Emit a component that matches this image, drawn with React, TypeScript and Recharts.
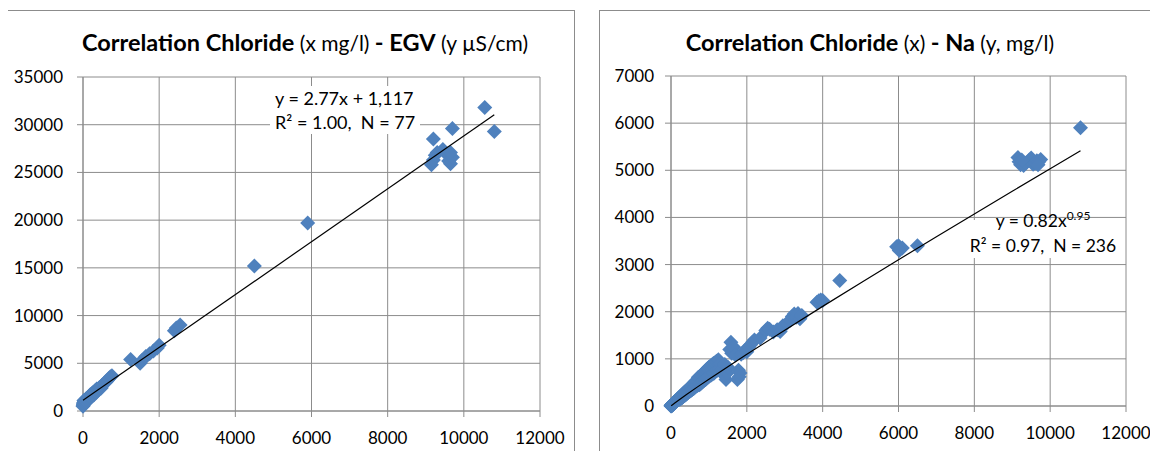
import React from 'react';
import { ScatterChart, Scatter, XAxis, YAxis, CartesianGrid } from 'recharts';

const GRID = '#8c8c8c';
const MARK = '#4f81bd';
const FONT = 'Lato, "Open Sans", sans-serif';

// chloride (mg/l) vs EGV (µS/cm)
const egvNearOrigin: [number, number][] = [
  [0, 500], [5, 600], [10, 700], [15, 800], [20, 900], [25, 1100], [30, 800], [40, 1000],
  [50, 900], [60, 1100], [70, 1000], [80, 1200], [90, 1300], [100, 1000], [110, 1200],
  [120, 1300], [130, 1100], [140, 1400], [150, 1500], [160, 1300], [170, 1400], [180, 1500],
  [190, 1700], [200, 1600], [210, 1500], [220, 1700], [230, 1800], [250, 1600], [260, 1900],
  [270, 1800], [290, 1700], [300, 1900], [310, 2100], [320, 2000], [340, 1900], [350, 2100],
  [360, 2300], [380, 2200], [400, 2300], [420, 2400], [450, 2500], [480, 2400], [500, 2700],
  [530, 2800], [560, 2900], [600, 3000], [640, 3200], [680, 3400], [720, 3600], [760, 3700],
];
const egvMid: [number, number][] = [
  [1250, 5400], [1500, 5000], [1550, 5300], [1650, 5700], [1750, 6000], [1850, 6300],
  [1950, 6600], [2000, 6900], [2400, 8400], [2450, 8700], [2550, 9000], [4500, 15200], [5900, 19700],
];
const egvHigh: [number, number][] = [
  [9150, 25800], [9200, 26300], [9250, 26800], [9300, 27100], [9450, 27400], [9550, 26900],
  [9600, 26200], [9650, 25900], [9700, 26600], [9650, 27100], [9200, 28500], [9700, 29600],
  [10550, 31800], [10800, 29300],
];
const egvSlope = 2.77;
const egvIntercept = 1117;
const egvR2 = 1.0;

// chloride vs Na (mg/l)
const naNearOrigin: [number, number][] = [
  [0, 0], [3, 5], [5, 8], [8, 4], [10, 12], [12, 9], [15, 14], [18, 10], [20, 20], [22, 16],
  [25, 22], [28, 18], [30, 28], [33, 24], [35, 30], [38, 26], [40, 36], [43, 30], [45, 40], [48, 34],
  [50, 44], [55, 40], [58, 50], [60, 46], [63, 54], [66, 48], [70, 60], [73, 55], [76, 66], [80, 58],
  [83, 70], [86, 64], [90, 76], [93, 70], [96, 82], [100, 74], [104, 88], [108, 80], [112, 94], [116, 86],
  [120, 100], [125, 92], [130, 108], [135, 98], [140, 116], [145, 106], [150, 124], [155, 112], [160, 132], [165, 120],
  [170, 140], [175, 128], [180, 148], [185, 136], [190, 156], [195, 144], [200, 164], [205, 150], [210, 172], [215, 158],
];
const naLow: [number, number][] = [
  [220, 176], [225, 142], [230, 184], [235, 148], [240, 192], [245, 154], [250, 200], [255, 175],
  [260, 208], [265, 167], [270, 216], [275, 173], [280, 224], [285, 180], [290, 232], [295, 186],
  [300, 220], [305, 192], [310, 248], [315, 198], [320, 256], [325, 205], [330, 264], [335, 211],
  [340, 272], [345, 250], [350, 280], [355, 224], [360, 288], [365, 230], [370, 296], [375, 236],
  [380, 304], [385, 243], [390, 312], [395, 249], [400, 320], [410, 300], [420, 336], [430, 271],
  [440, 352], [450, 284], [460, 368], [470, 340], [480, 384], [490, 309], [500, 400], [510, 321],
  [520, 416], [530, 334], [540, 432], [550, 347], [560, 420], [570, 359], [580, 464], [590, 372],
  [600, 480], [610, 384], [620, 496], [630, 397], [640, 512], [650, 450], [660, 528], [670, 422],
  [680, 544], [690, 435], [700, 520], [710, 447], [720, 610], [730, 460],
];
const naMid: [number, number][] = [
  [740, 600], [750, 450], [760, 620], [770, 470], [780, 640], [790, 480], [800, 650], [810, 500],
  [820, 660], [830, 520], [840, 690], [850, 530], [860, 700], [870, 540], [880, 720], [890, 560],
  [900, 730], [910, 560], [920, 760], [930, 580], [940, 770], [950, 600], [960, 790], [970, 610],
  [980, 800], [990, 620], [1000, 820], [1020, 640], [1040, 850], [1060, 660], [1080, 870], [1100, 680],
  [1120, 900], [1140, 700], [1160, 920], [1180, 740], [1200, 950], [1220, 760], [1250, 980], [1280, 800],
  [1300, 900], [1350, 780], [1400, 650], [1420, 880], [1450, 560], [1480, 700], [1500, 820], [1550, 1200],
  [1580, 1350], [1600, 1120], [1650, 1250], [1700, 1080], [1750, 560], [1780, 760], [1800, 620], [1820, 700],
  [1850, 1100], [1900, 1130], [1950, 1180], [2000, 1150], [2050, 1250], [2100, 1300], [2150, 1350], [2200, 1400],
];
const naHigh: [number, number][] = [
  [2350, 1440], [2500, 1600], [2550, 1650], [2600, 1630], [2700, 1570], [2800, 1620], [2880, 1580],
  [2950, 1700], [3050, 1750], [3150, 1820], [3200, 1900], [3250, 1950], [3300, 1880], [3350, 1960],
  [3400, 1850], [3450, 1920], [3850, 2200], [3900, 2230], [3950, 2250], [4000, 2240], [4450, 2660],
  [5950, 3380], [6000, 3400], [6050, 3330], [6100, 3350], [6020, 3300], [6500, 3400],
  [9150, 5270], [9180, 5180], [9220, 5120], [9300, 5100], [9350, 5150], [9450, 5220], [9500, 5260],
  [9550, 5130], [9600, 5150], [9650, 5200], [9700, 5180], [9750, 5230], [9680, 5120], [9250, 5220],
  [10800, 5900],
];
const naCoef = 0.82;
const naExp = 0.947;
const naR2 = 0.97;
const naFitX = [5, 50, 100, 200, 400, 700, 1000, 1500, 2000, 3000, 4000, 5000, 6000, 7000, 8000, 9000, 10000, 10800];

const xTicks = [0, 2000, 4000, 6000, 8000, 10000, 12000];
const egvTicks = [0, 5000, 10000, 15000, 20000, 25000, 30000, 35000];
const naTicks = [0, 1000, 2000, 3000, 4000, 5000, 6000, 7000];

const toPoints = (rows: [number, number][]) => rows.map(([x, y]) => ({ x, y }));

const egvPoints = toPoints([...egvNearOrigin, ...egvMid, ...egvHigh]);
const naPoints = toPoints([...naNearOrigin, ...naLow, ...naMid, ...naHigh]);

const egvMaxX = Math.max(...egvPoints.map((p) => p.x));
const egvFit = [0, egvMaxX].map((x) => ({ x, y: egvSlope * x + egvIntercept }));
const naFit = naFitX.map((x) => ({ x, y: naCoef * Math.pow(x, naExp) }));

const Diamond = (props: any) => {
  const { cx, cy } = props;
  if (cx == null || cy == null) return <g />;
  const r = 7.5;
  return <path d={`M${cx},${cy - r}L${cx + r},${cy}L${cx},${cy + r}L${cx - r},${cy}Z`} fill={MARK} />;
};

const NoDot = () => <g />;

const tickStyle = { fill: '#000', fontSize: 17, fontFamily: FONT };

type PanelProps = {
  left: number;
  top: number;
  width: number;
  height: number;
  margin: { top: number; right: number; bottom: number; left: number };
  yWidth: number;
  yTickMargin: number;
  yTicks: number[];
  points: { x: number; y: number }[];
  fit: { x: number; y: number }[];
};

function Panel(p: PanelProps) {
  return (
    <div style={{ position: 'absolute', left: p.left, top: p.top }}>
      <ScatterChart width={p.width} height={p.height} margin={p.margin}>
        <CartesianGrid stroke={GRID} strokeWidth={1} />
        <XAxis
          type="number"
          dataKey="x"
          domain={[0, 12000]}
          ticks={xTicks}
          interval={0}
          height={30}
          tick={tickStyle}
          tickSize={6}
          tickMargin={15}
          stroke={GRID}
        />
        <YAxis
          type="number"
          dataKey="y"
          domain={[0, p.yTicks[p.yTicks.length - 1]]}
          ticks={p.yTicks}
          interval={0}
          width={p.yWidth}
          tick={tickStyle}
          tickSize={6}
          tickMargin={p.yTickMargin}
          stroke={GRID}
        />
        <Scatter data={p.points} shape={Diamond} isAnimationActive={false} />
        <Scatter
          data={p.fit}
          shape={NoDot}
          line={{ stroke: '#000', strokeWidth: 1.2 }}
          isAnimationActive={false}
        />
      </ScatterChart>
    </div>
  );
}

const boxStyle = (left: number, top: number, width: number, height: number): React.CSSProperties => ({
  position: 'absolute',
  left,
  top,
  width,
  height,
  boxSizing: 'border-box',
  border: `1px solid ${GRID}`,
  background: '#fff',
});

const titleStyle = (center: number): React.CSSProperties => ({
  position: 'absolute',
  left: center,
  top: 27,
  transform: 'translateX(-50%)',
  whiteSpace: 'nowrap',
  fontFamily: FONT,
  color: '#000',
  lineHeight: '30px',
});

const bold: React.CSSProperties = { fontWeight: 700, fontSize: 23.5 };
const plain: React.CSSProperties = { fontWeight: 400, fontSize: 21 };

export default function App() {
  return (
    <div
      style={{
        position: 'relative',
        width: 1158,
        height: 459,
        margin: -8,
        overflow: 'hidden',
        background: '#fff',
        fontFamily: FONT,
      }}
    >
      <div style={boxStyle(7, 10, 568, 470)} />
      <div style={boxStyle(599, 10, 600, 447)} />

      <div style={titleStyle(305)}>
        <span style={bold}>Correlation Chloride</span>
        <span style={plain}> (x mg/l) </span>
        <span style={bold}>- EGV</span>
        <span style={plain}> (y µS/cm)</span>
      </div>
      <div style={titleStyle(870)}>
        <span style={bold}>Correlation Chloride</span>
        <span style={plain}> (x) </span>
        <span style={bold}>- Na</span>
        <span style={plain}> (y, mg/l)</span>
      </div>

      <Panel
        left={7}
        top={10}
        width={567}
        height={449}
        margin={{ top: 67, right: 34, bottom: 18, left: 0 }}
        yWidth={76}
        yTickMargin={14}
        yTicks={egvTicks}
        points={egvPoints}
        fit={egvFit}
      />
      <Panel
        left={599}
        top={10}
        width={559}
        height={446}
        margin={{ top: 66, right: 32, bottom: 20, left: 0 }}
        yWidth={72}
        yTickMargin={11}
        yTicks={naTicks}
        points={naPoints}
        fit={naFit}
      />

      <div
        style={{
          position: 'absolute',
          left: 270,
          top: 86,
          width: 150,
          padding: '0 0 0 5px',
          boxSizing: 'border-box',
          background: '#fff',
          fontSize: 18,
          lineHeight: '24px',
          whiteSpace: 'pre',
          color: '#000',
        }}
      >
        <div>{`y = ${egvSlope.toFixed(2)}x + ${egvIntercept.toLocaleString('en-US')}`}</div>
        <div>{`R² = ${egvR2.toFixed(2)},  N = ${egvPoints.length}`}</div>
      </div>

      <div
        style={{
          position: 'absolute',
          left: 968,
          top: 208,
          width: 150,
          textAlign: 'center',
          background: 'linear-gradient(to bottom, transparent 12px, #fff 12px)',
          fontSize: 17.5,
          lineHeight: '25px',
          whiteSpace: 'pre',
          color: '#000',
        }}
      >
        <div>
          {`y = ${naCoef.toFixed(2)}x`}
          <span style={{ fontSize: 12, position: 'relative', top: -7, lineHeight: 0 }}>
            {naExp.toFixed(2)}
          </span>
        </div>
        <div>{`R² = ${naR2.toFixed(2)},  N = ${naPoints.length}`}</div>
      </div>
    </div>
  );
}
